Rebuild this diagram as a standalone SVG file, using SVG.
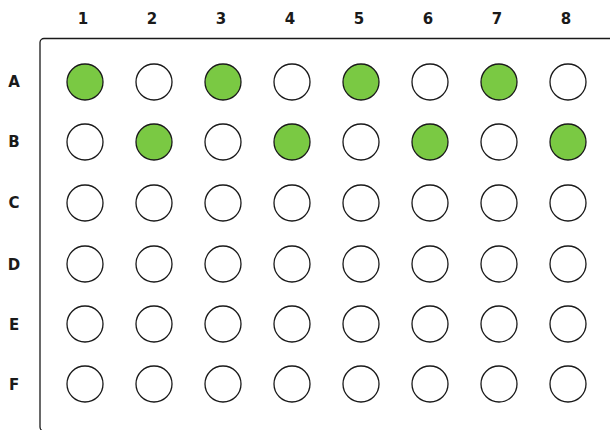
<svg xmlns="http://www.w3.org/2000/svg" width="610" height="430" viewBox="0 0 610 430">
<style>
.plate{fill:none;stroke:#1a1a1a;stroke-width:1.3}
.w{fill:#fff;stroke:#1a1a1a;stroke-width:1.3}
.g{fill:#7ac943;stroke:#1a1a1a;stroke-width:1.3}
.lbl{font-family:"DejaVu Sans",sans-serif;font-weight:bold;font-size:15px;fill:#1a1a1a;text-anchor:middle}
</style>
<rect id="plate" class="plate" x="40" y="38.5" width="600" height="392.5" rx="4"/>
<g id="col-labels">
<text class="lbl" x="83" y="24">1</text>
<text class="lbl" x="152" y="24">2</text>
<text class="lbl" x="221" y="24">3</text>
<text class="lbl" x="290" y="24">4</text>
<text class="lbl" x="359" y="24">5</text>
<text class="lbl" x="428" y="24">6</text>
<text class="lbl" x="497" y="24">7</text>
<text class="lbl" x="566" y="24">8</text>
</g>
<g id="row-labels">
<text class="lbl" x="14" y="87">A</text>
<text class="lbl" x="14" y="147">B</text>
<text class="lbl" x="14" y="208">C</text>
<text class="lbl" x="14" y="270">D</text>
<text class="lbl" x="14" y="330">E</text>
<text class="lbl" x="14" y="390">F</text>
</g>
<g id="row-A">
<circle class="g" cx="85" cy="82" r="18"/><circle class="w" cx="154" cy="82" r="18"/><circle class="g" cx="223" cy="82" r="18"/><circle class="w" cx="292" cy="82" r="18"/><circle class="g" cx="361" cy="82" r="18"/><circle class="w" cx="430" cy="82" r="18"/><circle class="g" cx="499" cy="82" r="18"/><circle class="w" cx="568" cy="82" r="18"/>
</g>
<g id="row-B">
<circle class="w" cx="85" cy="142" r="18"/><circle class="g" cx="154" cy="142" r="18"/><circle class="w" cx="223" cy="142" r="18"/><circle class="g" cx="292" cy="142" r="18"/><circle class="w" cx="361" cy="142" r="18"/><circle class="g" cx="430" cy="142" r="18"/><circle class="w" cx="499" cy="142" r="18"/><circle class="g" cx="568" cy="142" r="18"/>
</g>
<g id="row-C">
<circle class="w" cx="85" cy="203" r="18"/><circle class="w" cx="154" cy="203" r="18"/><circle class="w" cx="223" cy="203" r="18"/><circle class="w" cx="292" cy="203" r="18"/><circle class="w" cx="361" cy="203" r="18"/><circle class="w" cx="430" cy="203" r="18"/><circle class="w" cx="499" cy="203" r="18"/><circle class="w" cx="568" cy="203" r="18"/>
</g>
<g id="row-D">
<circle class="w" cx="85" cy="264" r="18"/><circle class="w" cx="154" cy="264" r="18"/><circle class="w" cx="223" cy="264" r="18"/><circle class="w" cx="292" cy="264" r="18"/><circle class="w" cx="361" cy="264" r="18"/><circle class="w" cx="430" cy="264" r="18"/><circle class="w" cx="499" cy="264" r="18"/><circle class="w" cx="568" cy="264" r="18"/>
</g>
<g id="row-E">
<circle class="w" cx="85" cy="324" r="18"/><circle class="w" cx="154" cy="324" r="18"/><circle class="w" cx="223" cy="324" r="18"/><circle class="w" cx="292" cy="324" r="18"/><circle class="w" cx="361" cy="324" r="18"/><circle class="w" cx="430" cy="324" r="18"/><circle class="w" cx="499" cy="324" r="18"/><circle class="w" cx="568" cy="324" r="18"/>
</g>
<g id="row-F">
<circle class="w" cx="85" cy="384" r="18"/><circle class="w" cx="154" cy="384" r="18"/><circle class="w" cx="223" cy="384" r="18"/><circle class="w" cx="292" cy="384" r="18"/><circle class="w" cx="361" cy="384" r="18"/><circle class="w" cx="430" cy="384" r="18"/><circle class="w" cx="499" cy="384" r="18"/><circle class="w" cx="568" cy="384" r="18"/>
</g>
<g id="connectors"/>
</svg>
